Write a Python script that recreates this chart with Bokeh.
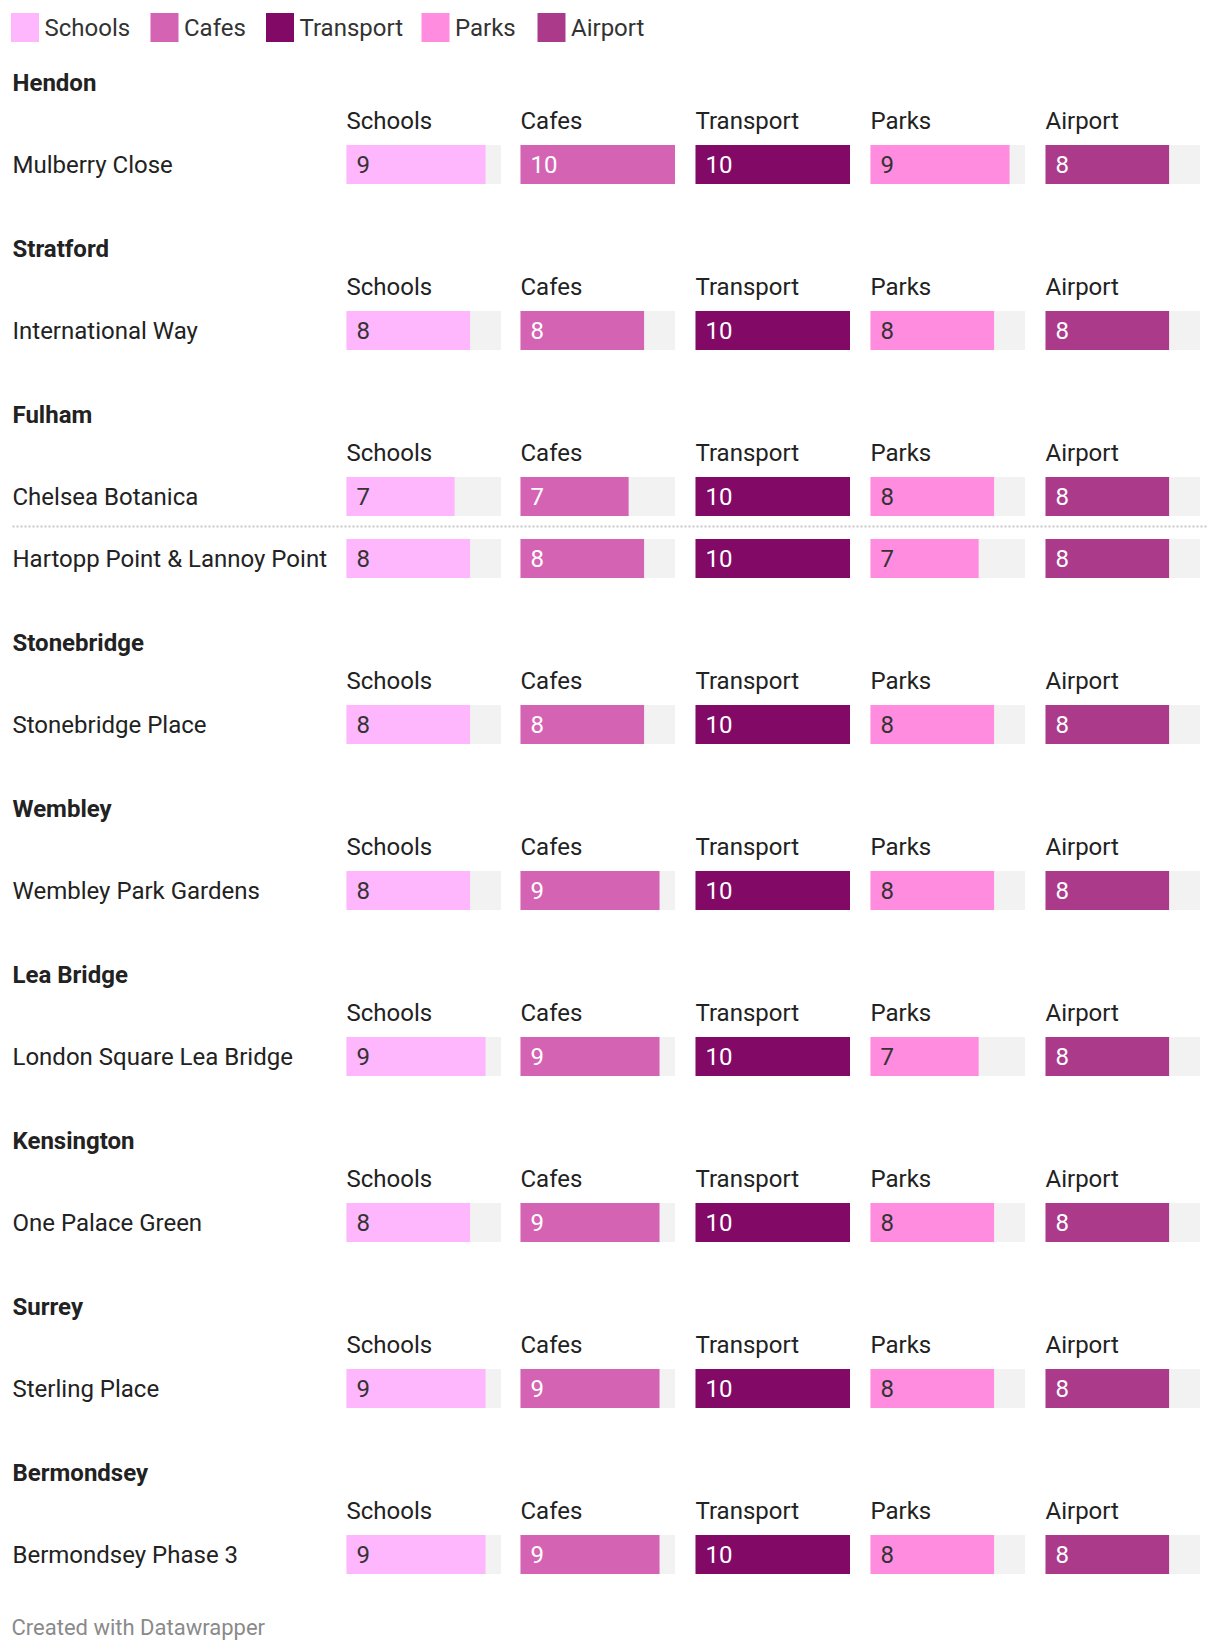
from bokeh.plotting import figure
from bokeh.models import Range1d, ColumnDataSource
from bokeh.core.properties import value
from bokeh.embed import file_html
from bokeh.resources import INLINE

# ---- data ----
series = ["Schools", "Cafes", "Transport", "Parks", "Airport"]
colors = ["#feb6fd", "#d563b4", "#820966", "#ff8cdf", "#ab3a8b"]
label_colors = ["#333333", "#ffffff", "#ffffff", "#333333", "#ffffff"]

groups = ["Hendon", "Stratford", "Fulham", "Fulham", "Stonebridge", "Wembley",
          "Lea Bridge", "Kensington", "Surrey", "Bermondsey"]
developments = ["Mulberry Close", "International Way", "Chelsea Botanica",
                "Hartopp Point & Lannoy Point", "Stonebridge Place",
                "Wembley Park Gardens", "London Square Lea Bridge",
                "One Palace Green", "Sterling Place", "Bermondsey Phase 3"]
schools = [9, 8, 7, 8, 8, 8, 9, 8, 9, 9]
cafes = [10, 8, 7, 8, 8, 9, 9, 9, 9, 9]
transport = [10, 10, 10, 10, 10, 10, 10, 10, 10, 10]
parks = [9, 8, 8, 7, 8, 8, 7, 8, 8, 8]
airport = [8, 8, 8, 8, 8, 8, 8, 8, 8, 8]
max_score = 10

values = [schools, cafes, transport, parks, airport]

# ---- layout ----
W, H = 1220, 1652
FONT = value("Roboto")
FS = "24px"
col_x0 = [346, 520, 695, 870, 1045]
col_w = 154.5
bar_h = 39

p = figure(width=W, height=H, output_backend="svg", toolbar_location=None,
           x_range=Range1d(0, W), y_range=Range1d(H, 0), min_border=0)
p.axis.visible = False
p.grid.visible = False
p.outline_line_color = None
p.background_fill_color = "white"

# legend
leg_sq_x = [10.5, 150, 265.5, 421, 537]
leg_y = 27
for i, s in enumerate(series):
    p.rect(x=[leg_sq_x[i] + 14], y=[leg_y], width=28, height=29,
           fill_color=colors[i], line_color=None)
    p.text(x=[leg_sq_x[i] + 33.5], y=[leg_y], text=[s], text_font=FONT,
           text_font_size=FS, text_color="#333333", text_baseline="middle")

# compute row positions
title_y = 82
rows_y = []
titles = []
prev_group = None
cur = None
for i, g in enumerate(groups):
    if g != prev_group:
        if cur is None:
            ty = title_y
        else:
            ty = cur + 84
        titles.append((g, ty))
        cur = ty + 82
        rows_y.append((cur, ty + 38, True))
    else:
        cur = cur + 62
        rows_y.append((cur, None, False))
        # dotted separator
        p.line(x=[12, 1207], y=[cur - 32, cur - 32], line_color="#c8c8c8",
               line_width=2, line_dash="2 2")
    prev_group = g

# group titles
p.text(x=[12] * len(titles), y=[t[1] for t in titles], text=[t[0] for t in titles],
       text_font=FONT, text_font_style="bold", text_font_size=FS,
       text_color="#222222", text_baseline="middle")

# row labels
p.text(x=[12] * len(developments), y=[r[0] for r in rows_y], text=developments,
       text_font=FONT, text_font_size=FS, text_color="#222222",
       text_baseline="middle")

# column headers
hx, hy, ht = [], [], []
for r in rows_y:
    if r[2]:
        for j, s in enumerate(series):
            hx.append(col_x0[j]); hy.append(r[1]); ht.append(s)
p.text(x=hx, y=hy, text=ht, text_font=FONT, text_font_size=FS,
       text_color="#222222", text_baseline="middle")

ys = [r[0] for r in rows_y]
for j, s in enumerate(series):
    vals = values[j]
    # background bars
    p.hbar(y=ys, height=bar_h, left=[col_x0[j]] * len(ys),
           right=[col_x0[j] + col_w] * len(ys), fill_color="#f2f2f2", line_color=None)
    src = ColumnDataSource(dict(
        y=ys,
        left=[col_x0[j]] * len(ys),
        right=[col_x0[j] + v / max_score * col_w for v in vals],
        lx=[col_x0[j] + 10] * len(ys),
        lab=[str(v) for v in vals],
    ))
    p.hbar(y="y", height=bar_h, left="left", right="right", source=src,
           fill_color=colors[j], line_color=None)
    p.text(x="lx", y="y", text="lab", source=src, text_font=FONT,
           text_font_size=FS, text_color=label_colors[j], text_baseline="middle")

# footer
p.text(x=[11], y=[1627], text=["Created with Datawrapper"], text_font=FONT,
       text_font_size="22px", text_color="#8a8a8a", text_baseline="middle")

open("out.html", "w").write(file_html(p, INLINE))
